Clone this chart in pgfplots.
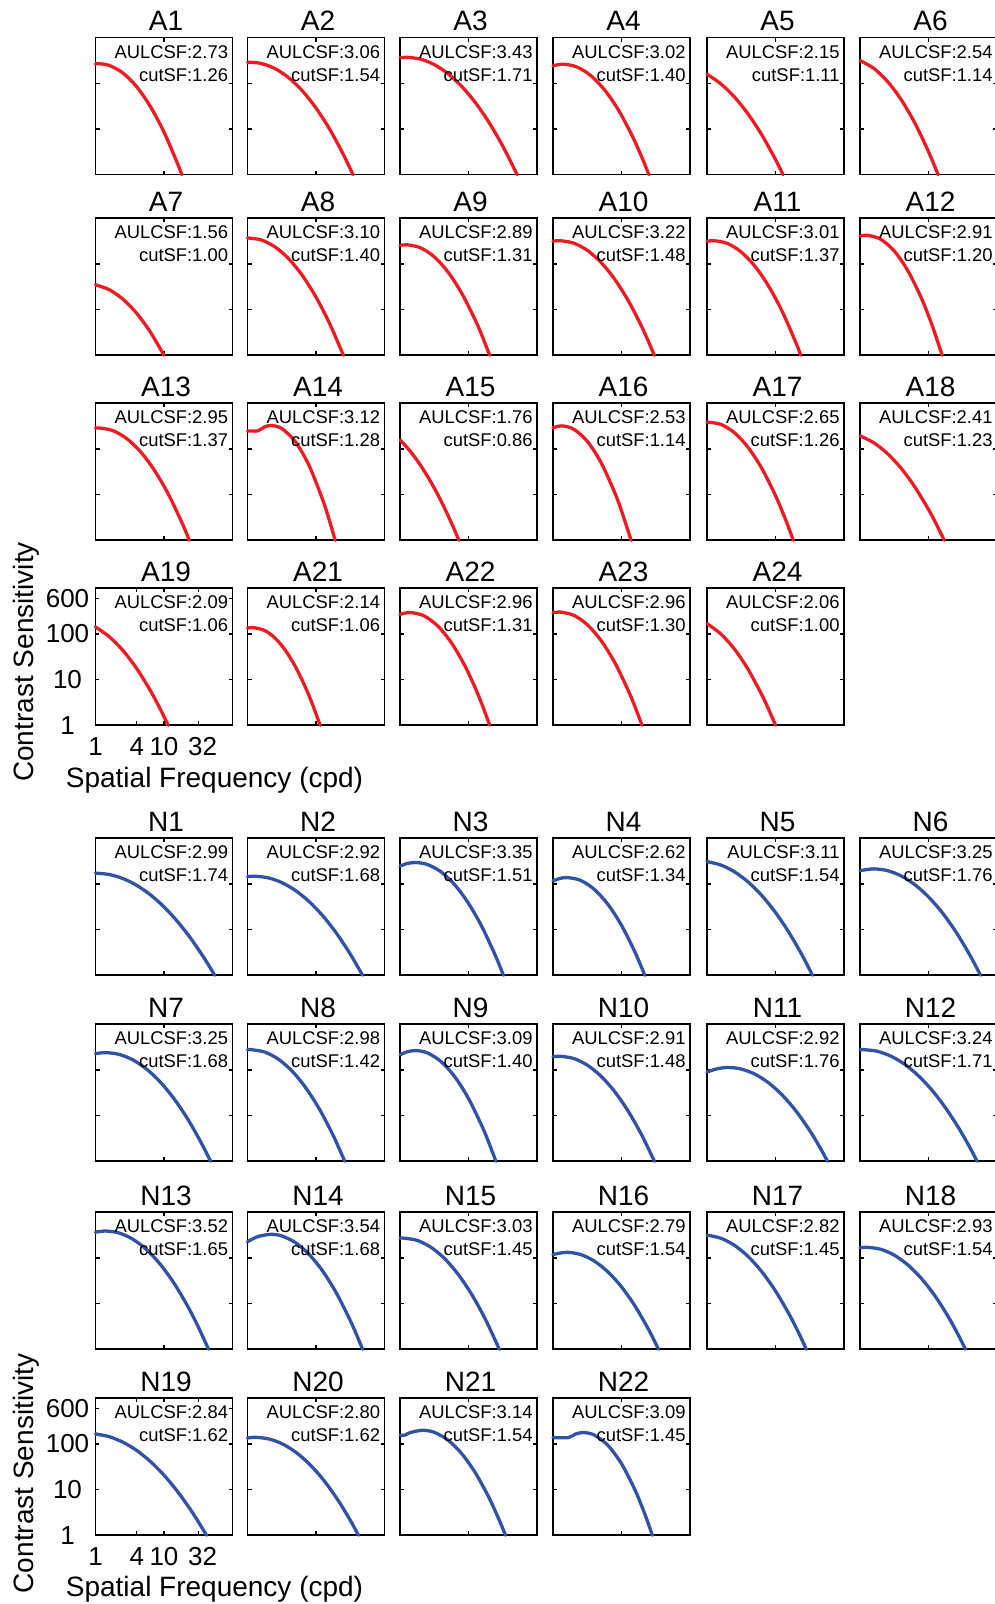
\documentclass[border=0pt]{standalone}
\usepackage{fontspec}
\setmainfont{Liberation Sans}
\usepackage{pgfplots}
\pgfplotsset{compat=1.18}
\definecolor{cred}{RGB}{236,28,36}
\definecolor{cblue}{RGB}{50,82,164}
\newcommand{\fT}{\fontsize{28}{28}\selectfont}
\newcommand{\fA}{\fontsize{18.4}{18.4}\selectfont}
\newcommand{\fK}{\fontsize{26}{26}\selectfont}
\newcommand{\fL}{\fontsize{28}{28}\selectfont}
\pgfplotsset{
  panel/.style={scale only axis, width=137pt, height=137pt,
    xmin=0, xmax=2, ymin=0, ymax=3, anchor=north west, clip=false,
    axis line style={line width=1.6pt, black},
    xtick={1}, ytick={1,2}, xticklabels={}, yticklabels={},
    tick align=inside, major tick length=4pt,
    every tick/.style={black, line width=1.2pt},
    /pgf/number format/assume math mode=true},
  labeled/.style={xtick={0,0.60206,1,1.50515}, xticklabels={1,4,10,\hspace*{8pt}32},
    ytick={0,1,2,2.77815}, yticklabels={1,10,100,600},
    xticklabel style={font=\fK, anchor=center, yshift=-21.5pt, inner sep=0pt},
    yticklabel style={font=\fK, anchor=center, xshift=-28pt, inner sep=0pt}},
  curve/.style={line width=3.3pt, smooth, line cap=round}
}
\newcommand{\panel}[7][]{%
\begin{axis}[panel, #1, at={(#2pt,#3pt)}]
\addplot[curve, #7] coordinates {\panelcoords};
\node[anchor=base east, font=\fA, inner sep=0pt] at (rel axis cs:0.969,0.850) {AULCSF:#5};
\node[anchor=base east, font=\fA, inner sep=0pt] at (rel axis cs:0.969,0.682) {cutSF:#6};
\node[anchor=base, font=\fT, inner sep=0pt, yshift=7pt, xshift=2pt] at (rel axis cs:0.5,1) {#4};
\end{axis}}
\begin{document}
\begin{tikzpicture}
% ---------------- A group ----------------
\def\panelcoords{(0,2.426)(0.05,2.43)(0.2,2.393)(0.4,2.227)(0.6,1.928)(0.8,1.496)(1.0,0.932)(1.2,0.235)(1.26,0)}
\panel{95.5}{1566.3}{A1}{2.73}{1.26}{cred}
\def\panelcoords{(0,2.457)(0.05,2.46)(0.2,2.435)(0.4,2.324)(0.6,2.125)(0.8,1.837)(1.0,1.46)(1.2,0.995)(1.4,0.441)(1.54,0)}
\panel{247.5}{1566.3}{A2}{3.06}{1.54}{cred}
\def\panelcoords{(0,2.56)(0.1,2.57)(0.3,2.53)(0.5,2.411)(0.7,2.213)(0.9,1.935)(1.1,1.579)(1.3,1.142)(1.5,0.627)(1.71,0)}
\panel{400}{1566.3}{A3}{3.43}{1.71}{cred}
\def\panelcoords{(0,2.385)(0.15,2.42)(0.35,2.358)(0.55,2.172)(0.75,1.862)(0.95,1.429)(1.15,0.871)(1.3,0.371)(1.4,0)}
\panel{553}{1566.3}{A4}{3.02}{1.40}{cred}
\def\panelcoords{(0,2.2)(0.2,1.992)(0.4,1.702)(0.6,1.328)(0.8,0.872)(1.0,0.332)(1.11,0)}
\panel{707}{1566.3}{A5}{2.15}{1.11}{cred}
\def\panelcoords{(0,2.5)(0.2,2.329)(0.4,2.044)(0.6,1.646)(0.8,1.133)(1.0,0.506)(1.14,0)}
\panel{860}{1566.3}{A6}{2.54}{1.14}{cred}
%
\def\panelcoords{(0,1.544)(0.2,1.437)(0.4,1.229)(0.6,0.921)(0.8,0.511)(1.0,0)}
\panel{95.5}{1385.7}{A7}{1.56}{1.00}{cred}
\def\panelcoords{(0,2.569)(0.2,2.526)(0.4,2.375)(0.6,2.116)(0.8,1.749)(1.0,1.274)(1.2,0.691)(1.4,0)}
\panel{247.5}{1385.7}{A8}{3.10}{1.40}{cred}
\def\panelcoords{(0,2.403)(0.1,2.42)(0.3,2.354)(0.5,2.156)(0.7,1.825)(0.9,1.362)(1.1,0.767)(1.2,0.42)(1.31,0)}
\panel{400}{1385.7}{A9}{2.89}{1.31}{cred}
\def\panelcoords{(0,2.497)(0.1,2.51)(0.3,2.457)(0.5,2.299)(0.7,2.036)(0.9,1.667)(1.1,1.192)(1.3,0.612)(1.48,0)}
\panel{553}{1385.7}{A10}{3.22}{1.48}{cred}
\def\panelcoords{(0,2.494)(0.1,2.51)(0.3,2.448)(0.5,2.261)(0.7,1.95)(0.9,1.514)(1.1,0.954)(1.3,0.269)(1.37,0)}
\panel{707}{1385.7}{A11}{3.01}{1.37}{cred}
\def\panelcoords{(0,2.608)(0.1,2.63)(0.3,2.543)(0.5,2.282)(0.7,1.848)(0.9,1.239)(1.05,0.668)(1.2,0)}
\panel{860}{1385.7}{A12}{2.91}{1.20}{cred}
%
\def\panelcoords{(0,2.456)(0.05,2.46)(0.25,2.404)(0.45,2.234)(0.65,1.952)(0.85,1.556)(1.05,1.048)(1.25,0.427)(1.37,0)}
\panel{95.5}{1200.7}{A13}{2.95}{1.37}{cred}
\def\panelcoords{(0,2.396)(0.15,2.396)(0.25,2.484)(0.35,2.513)(0.5,2.448)(0.7,2.157)(0.9,1.634)(1.1,0.878)(1.2,0.413)(1.28,0)}
\panel{247.5}{1200.7}{A14}{3.12}{1.28}{cred}
\def\panelcoords{(0,2.2)(0.15,1.949)(0.3,1.641)(0.45,1.278)(0.6,0.859)(0.75,0.384)(0.86,0)}
\panel{400}{1200.7}{A15}{1.76}{0.86}{cred}
\def\panelcoords{(0,2.463)(0.13,2.505)(0.3,2.434)(0.5,2.169)(0.7,1.707)(0.9,1.049)(1.0,0.646)(1.14,0)}
\panel{553}{1200.7}{A16}{2.53}{1.14}{cred}
\def\panelcoords{(0,2.588)(0.2,2.54)(0.4,2.356)(0.6,2.034)(0.8,1.575)(1.0,0.979)(1.15,0.442)(1.26,0)}
\panel{707}{1200.7}{A17}{2.65}{1.26}{cred}
\def\panelcoords{(0,2.287)(0.2,2.137)(0.4,1.9)(0.6,1.578)(0.8,1.169)(1.0,0.675)(1.1,0.395)(1.23,0)}
\panel{860}{1200.7}{A18}{2.41}{1.23}{cred}
%
\def\panelcoords{(0,2.153)(0.2,1.941)(0.4,1.639)(0.6,1.246)(0.8,0.763)(0.95,0.342)(1.06,0)}
\panel[labeled]{95.5}{1015.7}{A19}{2.09}{1.06}{cred}
\def\panelcoords{(0,2.126)(0.08,2.14)(0.25,2.076)(0.4,1.912)(0.55,1.648)(0.7,1.284)(0.85,0.819)(0.95,0.454)(1.06,0)}
\panel{247.5}{1015.7}{A21}{2.14}{1.06}{cred}
\def\panelcoords{(0,2.429)(0.15,2.47)(0.35,2.397)(0.55,2.176)(0.75,1.809)(0.95,1.295)(1.1,0.813)(1.2,0.446)(1.31,0)}
\panel{400}{1015.7}{A22}{2.96}{1.31}{cred}
\def\panelcoords{(0,2.463)(0.1,2.48)(0.3,2.411)(0.5,2.204)(0.7,1.86)(0.9,1.378)(1.1,0.758)(1.2,0.396)(1.3,0)}
\panel{553}{1015.7}{A23}{2.96}{1.30}{cred}
\def\panelcoords{(0,2.226)(0.2,2.003)(0.4,1.67)(0.6,1.225)(0.8,0.668)(0.9,0.348)(1.0,0)}
\panel{707}{1015.7}{A24}{2.06}{1.00}{cred}
% ---------------- N group ----------------
\def\panelcoords{(0,2.237)(0.2,2.207)(0.4,2.119)(0.6,1.971)(0.8,1.764)(1.0,1.498)(1.2,1.173)(1.4,0.789)(1.6,0.345)(1.74,0)}
\panel{95.5}{765.7}{N1}{2.99}{1.74}{cblue}
\def\panelcoords{(0,2.161)(0.1,2.17)(0.3,2.135)(0.5,2.031)(0.7,1.857)(0.9,1.614)(1.1,1.301)(1.3,0.918)(1.5,0.466)(1.68,0)}
\panel{247.5}{765.7}{N2}{2.92}{1.68}{cblue}
\def\panelcoords{(0,2.39)(0.1,2.445)(0.23,2.47)(0.4,2.426)(0.6,2.264)(0.8,1.98)(1.0,1.576)(1.2,1.052)(1.4,0.406)(1.51,0)}
\panel{400}{765.7}{N3}{3.35}{1.51}{cblue}
\def\panelcoords{(0,2.066)(0.1,2.12)(0.21,2.14)(0.4,2.08)(0.6,1.885)(0.8,1.557)(1.0,1.094)(1.2,0.497)(1.34,0)}
\panel{553}{765.7}{N4}{2.62}{1.34}{cblue}
\def\panelcoords{(0,2.49)(0.2,2.416)(0.4,2.267)(0.6,2.044)(0.8,1.747)(1.0,1.375)(1.2,0.929)(1.4,0.409)(1.54,0)}
\panel{707}{765.7}{N5}{3.11}{1.54}{cblue}
\def\panelcoords{(0,2.292)(0.2,2.33)(0.4,2.292)(0.6,2.177)(0.8,1.985)(1.0,1.717)(1.2,1.373)(1.4,0.951)(1.6,0.453)(1.76,0)}
\panel{860}{765.7}{N6}{3.25}{1.76}{cblue}
%
\def\panelcoords{(0,2.357)(0.15,2.38)(0.35,2.339)(0.55,2.217)(0.75,2.014)(0.95,1.729)(1.15,1.363)(1.35,0.916)(1.55,0.387)(1.68,0)}
\panel{95.5}{579.7}{N7}{3.25}{1.68}{cblue}
\def\panelcoords{(0,2.442)(0.05,2.445)(0.25,2.393)(0.45,2.237)(0.65,1.976)(0.85,1.611)(1.05,1.142)(1.25,0.569)(1.42,0)}
\panel{247.5}{579.7}{N8}{2.98}{1.42}{cblue}
\def\panelcoords{(0,2.331)(0.1,2.395)(0.23,2.425)(0.4,2.374)(0.6,2.183)(0.8,1.85)(1.0,1.375)(1.2,0.759)(1.3,0.397)(1.4,0)}
\panel{400}{579.7}{N9}{3.09}{1.40}{cblue}
\def\panelcoords{(0,2.288)(0.1,2.3)(0.3,2.252)(0.5,2.107)(0.7,1.865)(0.9,1.527)(1.1,1.092)(1.3,0.561)(1.48,0)}
\panel{553}{579.7}{N10}{2.91}{1.48}{cblue}
\def\panelcoords{(0,1.956)(0.15,2.027)(0.315,2.054)(0.5,2.02)(0.7,1.908)(0.9,1.717)(1.1,1.448)(1.3,1.1)(1.5,0.673)(1.65,0.301)(1.76,0)}
\panel{707}{579.7}{N11}{2.92}{1.76}{cblue}
\def\panelcoords{(0,2.443)(0.05,2.445)(0.25,2.41)(0.45,2.303)(0.65,2.126)(0.85,1.877)(1.05,1.558)(1.25,1.167)(1.45,0.706)(1.6,0.313)(1.71,0)}
\panel{860}{579.7}{N12}{3.24}{1.71}{cblue}
%
\def\panelcoords{(0,2.564)(0.15,2.59)(0.35,2.544)(0.55,2.406)(0.75,2.176)(0.95,1.853)(1.15,1.439)(1.35,0.932)(1.5,0.492)(1.65,0)}
\panel{95.5}{391.7}{N13}{3.52}{1.65}{cblue}
\def\panelcoords{(0,2.356)(0.15,2.467)(0.34,2.518)(0.5,2.482)(0.7,2.336)(0.9,2.078)(1.1,1.708)(1.3,1.226)(1.5,0.631)(1.6,0.292)(1.68,0)}
\panel{247.5}{391.7}{N14}{3.54}{1.68}{cblue}
\def\panelcoords{(0,2.432)(0.05,2.435)(0.25,2.385)(0.45,2.236)(0.65,1.988)(0.85,1.64)(1.05,1.193)(1.25,0.646)(1.45,0)}
\panel{400}{391.7}{N15}{3.03}{1.45}{cblue}
\def\panelcoords{(0,2.077)(0.2,2.124)(0.4,2.077)(0.6,1.935)(0.8,1.698)(1.0,1.367)(1.2,0.941)(1.4,0.421)(1.54,0)}
\panel{553}{391.7}{N16}{2.79}{1.54}{cblue}
\def\panelcoords{(0,2.5)(0.2,2.433)(0.4,2.278)(0.6,2.033)(0.8,1.699)(1.0,1.276)(1.2,0.765)(1.35,0.323)(1.45,0)}
\panel{707}{391.7}{N17}{2.82}{1.45}{cblue}
\def\panelcoords{(0,2.223)(0.1,2.234)(0.3,2.191)(0.5,2.062)(0.7,1.846)(0.9,1.544)(1.1,1.157)(1.3,0.683)(1.45,0.27)(1.54,0)}
\panel{860}{391.7}{N18}{2.93}{1.54}{cblue}
%
\def\panelcoords{(0,2.22)(0.2,2.16)(0.4,2.039)(0.6,1.859)(0.8,1.618)(1.0,1.317)(1.2,0.955)(1.4,0.533)(1.55,0.178)(1.62,0)}
\panel[labeled]{95.5}{205.7}{N19}{2.84}{1.62}{cblue}
\def\panelcoords{(0,2.131)(0.12,2.145)(0.32,2.107)(0.52,1.993)(0.72,1.802)(0.92,1.535)(1.12,1.192)(1.32,0.772)(1.5,0.33)(1.62,0)}
\panel{247.5}{205.7}{N20}{2.80}{1.62}{cblue}
\def\panelcoords{(0,2.19)(0.065,2.19)(0.15,2.249)(0.33,2.3)(0.5,2.255)(0.7,2.085)(0.9,1.79)(1.1,1.369)(1.3,0.822)(1.45,0.329)(1.54,0)}
\panel{400}{205.7}{N21}{3.14}{1.54}{cblue}
\def\panelcoords{(0,2.14)(0.226,2.14)(0.33,2.219)(0.448,2.25)(0.6,2.198)(0.8,1.972)(1.0,1.567)(1.2,0.983)(1.35,0.428)(1.45,0)}
\panel{553}{205.7}{N22}{3.09}{1.45}{cblue}
% ---------------- axis labels ----------------
\node[rotate=90, anchor=base, font=\fL, inner sep=0pt] at (33pt,942pt) {Contrast Sensitivity};
\node[rotate=90, anchor=base, font=\fL, inner sep=0pt] at (33pt,130.5pt) {Contrast Sensitivity};
\node[anchor=base, font=\fL, inner sep=0pt] at (214.5pt,816pt) {Spatial Frequency (cpd)};
\node[anchor=base, font=\fL, inner sep=0pt] at (214.5pt,7pt) {Spatial Frequency (cpd)};
\pgfresetboundingbox
\useasboundingbox (0pt,0pt) rectangle (995pt,1604pt);
\end{tikzpicture}
\end{document}
